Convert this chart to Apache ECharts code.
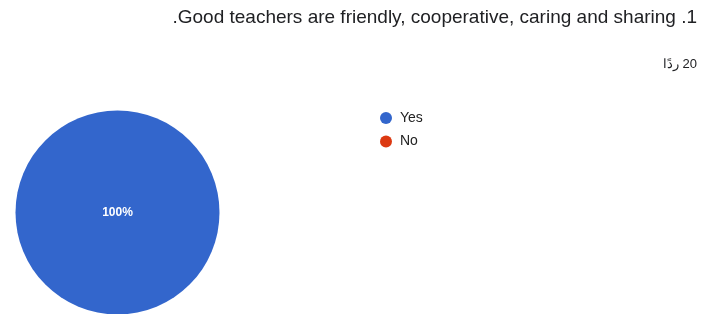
<!DOCTYPE html>
<html>
<head>
<meta charset="utf-8">
<script src="https://cdn.jsdelivr.net/npm/echarts@6/dist/echarts.min.js"></script>
<style>
  html, body { margin: 0; padding: 0; background: #fff; }
  #chart { width: 711px; height: 314px; }
</style>
</head>
<body>
<div id="chart"></div>
<script>
  // question and response count (page is RTL, so shown in visual order)
  const questionText = '.Good teachers are friendly, cooperative, caring and sharing .1';
  const responseText = 'ردًا\u200E 20';

  const categories = ['Yes', 'No'];
  const values = [20, 0];
  const colors = ['#3366cc', '#dc3912'];

  const chart = echarts.init(document.getElementById('chart'));

  chart.setOption({
    animation: false,
    color: colors,
    title: [
      {
        text: questionText,
        right: 14, top: 8,
        padding: 0,
        textStyle: { fontFamily: 'Liberation Sans', fontSize: 19, fontWeight: 'normal', color: '#202124' }
      },
      {
        text: responseText,
        right: 14, top: 58,
        padding: 0,
        textStyle: { fontFamily: 'Liberation Sans', fontSize: 13, fontWeight: 'normal', color: '#202124' }
      }
    ],
    legend: {
      orient: 'vertical',
      left: 380, top: 111,
      padding: 0,
      icon: 'circle',
      itemWidth: 12, itemHeight: 12,
      itemGap: 9.5,
      textStyle: { fontFamily: 'Liberation Sans', fontSize: 14, color: '#222', padding: [0, 0, 0, 3] },
      data: categories
    },
    series: [{
      type: 'pie',
      center: [117.5, 212.5],
      radius: [0, 102],
      startAngle: 90,
      stillShowZeroSum: true,
      label: {
        position: 'center',
        formatter: p => p.value > 0 ? Math.round(p.percent) + '%' : '',
        color: '#fff',
        fontFamily: 'Liberation Sans',
        fontSize: 12,
        fontWeight: 'bold'
      },
      labelLine: { show: false },
      emphasis: { disabled: true },
      data: categories.map((c, i) => ({ name: c, value: values[i] }))
    }]
  });
</script>
</body>
</html>
